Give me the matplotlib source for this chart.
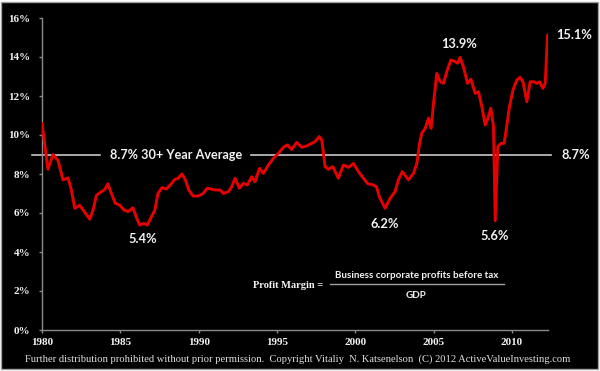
import matplotlib
matplotlib.use("Agg")
import matplotlib.pyplot as plt
from matplotlib.patches import Rectangle

# ---- data ----
years = [1980.0, 1980.38, 1980.7, 1981.02, 1981.34, 1981.66, 1981.87, 1982.09, 1982.4, 1982.7,
         1983.05, 1983.26, 1983.47, 1983.79, 1984.0, 1984.2, 1984.43, 1984.68, 1984.96, 1985.24,
         1985.5, 1985.8, 1986.09, 1986.24, 1986.5, 1986.72, 1986.98, 1987.2, 1987.4, 1987.66,
         1987.93, 1988.26, 1988.47, 1988.68, 1988.94, 1989.15, 1989.37, 1989.64, 1989.96, 1990.28,
         1990.55, 1991.05, 1991.37, 1991.58, 1991.9, 1992.11, 1992.32, 1992.6, 1992.85, 1993.1,
         1993.39, 1993.6, 1993.88, 1994.13, 1994.45, 1994.77, 1995.09, 1995.41, 1995.66, 1995.94,
         1996.26, 1996.58, 1996.9, 1997.22, 1997.43, 1997.7, 1997.86, 1998.07, 1998.28, 1998.56,
         1998.92, 1999.24, 1999.56, 1999.88, 2000.2, 2000.52, 2000.8, 2001.1, 2001.35, 2001.55,
         2001.9, 2002.22, 2002.54, 2002.75, 2003.0, 2003.39, 2003.71, 2003.93, 2004.1, 2004.24,
         2004.46, 2004.67, 2004.84, 2004.99, 2005.2, 2005.42, 2005.63, 2005.84, 2006.1, 2006.37,
         2006.52, 2006.69, 2006.9, 2007.16, 2007.38, 2007.65, 2007.86, 2008.08, 2008.29, 2008.43,
         2008.65, 2008.82, 2008.93, 2009.1, 2009.29, 2009.5, 2009.63, 2009.84, 2010.06, 2010.31,
         2010.52, 2010.7, 2010.95, 2011.16, 2011.37, 2011.59, 2011.76, 2011.97, 2012.12, 2012.27]
margin = [10.6, 8.24, 9.0, 8.7, 7.7, 7.8, 7.2, 6.24, 6.4, 6.07,
          5.68, 6.15, 6.9, 7.1, 7.2, 7.5, 7.0, 6.5, 6.4, 6.15,
          6.07, 6.27, 5.64, 5.38, 5.47, 5.38, 5.8, 6.15, 7.0, 7.3,
          7.23, 7.5, 7.72, 7.78, 8.0, 7.7, 7.18, 6.87, 6.87, 7.0,
          7.27, 7.18, 7.18, 7.0, 7.1, 7.35, 7.78, 7.27, 7.52, 7.44,
          7.86, 7.6, 8.29, 8.03, 8.46, 8.8, 9.06, 9.37, 9.49, 9.26,
          9.62, 9.37, 9.44, 9.57, 9.66, 9.92, 9.74, 8.38, 8.24, 8.38,
          7.78, 8.46, 8.34, 8.54, 8.12, 7.78, 7.5, 7.45, 7.35, 6.8,
          6.24, 6.75, 7.1, 7.7, 8.12, 7.7, 8.03, 8.55, 9.57, 10.09,
          10.34, 10.86, 10.34, 11.62, 13.16, 12.73, 12.65, 13.25, 13.85, 13.76,
          13.68, 13.98, 13.5, 12.65, 12.86, 12.14, 12.22, 11.45, 10.51, 10.77,
          11.37, 10.43, 5.6, 9.4, 9.57, 9.57, 10.26, 11.45, 12.3, 12.82,
          12.96, 12.73, 11.71, 12.73, 12.73, 12.65, 12.73, 12.39, 12.65, 15.13]

avg_level = 8.95          # where the average line is drawn in the picture
avg_text = "8.7% 30+ Year Average"
avg_right_text = "8.7%"
xtick_years = [1980, 1985, 1990, 1995, 2000, 2005, 2010]
ytick_vals = [0, 2, 4, 6, 8, 10, 12, 14, 16]
ytick_labels = ["0%", "2%", "4%", "6%", "8%", "10%", "12%", "14%", "16%"]
# annotated points: (label, x, y)
ann_low_1986 = ("5.4%", 1986.45, 5.38)
ann_low_2001 = ("6.2%", 2001.9, 6.24)
ann_low_2009 = ("5.6%", 2008.93, 5.6)
ann_peak_2006 = ("13.9%", 2006.63, 13.98)
ann_last = ("15.1%", 2012.27, 15.13)
footer = ("Further distribution prohibited without prior permission.  Copyright Vitaliy  N. Katsenelson  "
          "(C) 2012 ActiveValueInvesting.com")

TXT = "#f2f2f2"
SANS = ["Lato", "DejaVu Sans"]
SERIF = ["Liberation Serif", "DejaVu Serif"]

fig = plt.figure(figsize=(6, 3.71), dpi=100)
fig.patch.set_facecolor("white")
fig.patches.append(Rectangle((1 / 600, 2.5 / 371), 597 / 600, 366.5 / 371, transform=fig.transFigure,
                             facecolor="black", edgecolor="#a0a0a0", lw=1.0, zorder=-10))

ax = fig.add_axes([42 / 600, 1 - 330 / 371, 506 / 600, 312 / 371])
ax.set_facecolor("none")
ax.plot(years, margin, color="#e60000", lw=2.1, solid_joinstyle="round", solid_capstyle="round", zorder=3)

ax.set_xlim(1980, 2012.3)
ax.set_ylim(0, 16)
for s in ["top", "right"]:
    ax.spines[s].set_visible(False)
for s in ["left", "bottom"]:
    ax.spines[s].set_color("#8a8a8a")
    ax.spines[s].set_linewidth(1.0)

ax.set_xticks(xtick_years)
ax.set_xticklabels([str(y) for y in xtick_years])
ax.set_yticks(ytick_vals)
ax.set_yticklabels(ytick_labels)
ax.tick_params(axis="both", colors="#8a8a8a", length=2.5, width=1.0, direction="out")
ax.tick_params(axis="y", pad=6)
ax.tick_params(axis="x", pad=3)
for lab in ax.get_xticklabels() + ax.get_yticklabels():
    lab.set_color(TXT)
    lab.set_family(SERIF)
    lab.set_fontweight("bold")
    lab.set_fontsize(8)

# average line with a gap for the label
ax.axhline(avg_level, xmin=-0.02, xmax=0.1146, color="#c8c8c8", lw=1.2, clip_on=False, zorder=2)
ax.axhline(avg_level, xmin=0.413, xmax=1.006, color="#c8c8c8", lw=1.2, clip_on=False, zorder=2)
ax.text(0.134, avg_level, avg_text, transform=ax.get_yaxis_transform(), color=TXT,
        family=SANS, fontsize=9.1, fontweight="bold", va="center", ha="left")
ax.annotate(avg_right_text, xy=(1.0, avg_level), xycoords=("axes fraction", "data"),
            xytext=(10, 0), textcoords="offset points", color=TXT, family=SANS,
            fontsize=9.3, fontweight="bold", va="center", ha="left", annotation_clip=False)

for (lab, x, y), dy in [(ann_low_1986, -10), (ann_low_2001, -11), (ann_low_2009, -11)]:
    ax.annotate(lab, xy=(x, y), xytext=(0, dy), textcoords="offset points", color=TXT,
                family=SANS, fontsize=9.3, fontweight="bold", ha="center", va="center")
lab, x, y = ann_peak_2006
ax.annotate(lab, xy=(x, y), xytext=(0, 10), textcoords="offset points", color=TXT,
            family=SANS, fontsize=9.3, fontweight="bold", ha="center", va="center")
lab, x, y = ann_last
ax.annotate(lab, xy=(x, y), xytext=(6.5, 0), textcoords="offset points", color=TXT,
            family=SANS, fontsize=9.3, fontweight="bold", ha="left", va="center",
            annotation_clip=False)

# formula
ax.text(0.4164, 0.144, "Profit Margin =", transform=ax.transAxes, color=TXT, family=SERIF,
        fontsize=7.5, fontweight="bold", ha="left", va="center")
ax.text(0.740, 0.176, "Business corporate profits before tax", transform=ax.transAxes, color=TXT,
        family=SANS, fontsize=7.1, fontweight="bold", ha="center", va="center")
ax.plot([0.569, 0.913], [0.147, 0.147], transform=ax.transAxes, color="#a0a0a0", lw=1.0)
ax.text(0.739, 0.110, "GDP", transform=ax.transAxes, color=TXT, family=SANS,
        fontsize=7.1, fontweight="bold", ha="center", va="center")

fig.text(0.4967, 1 - 359.5 / 371, footer, color="#e0e0e0", family=SERIF, fontsize=7.55,
         ha="center", va="center")

fig.savefig("out.png", dpi=100, facecolor=fig.get_facecolor())
